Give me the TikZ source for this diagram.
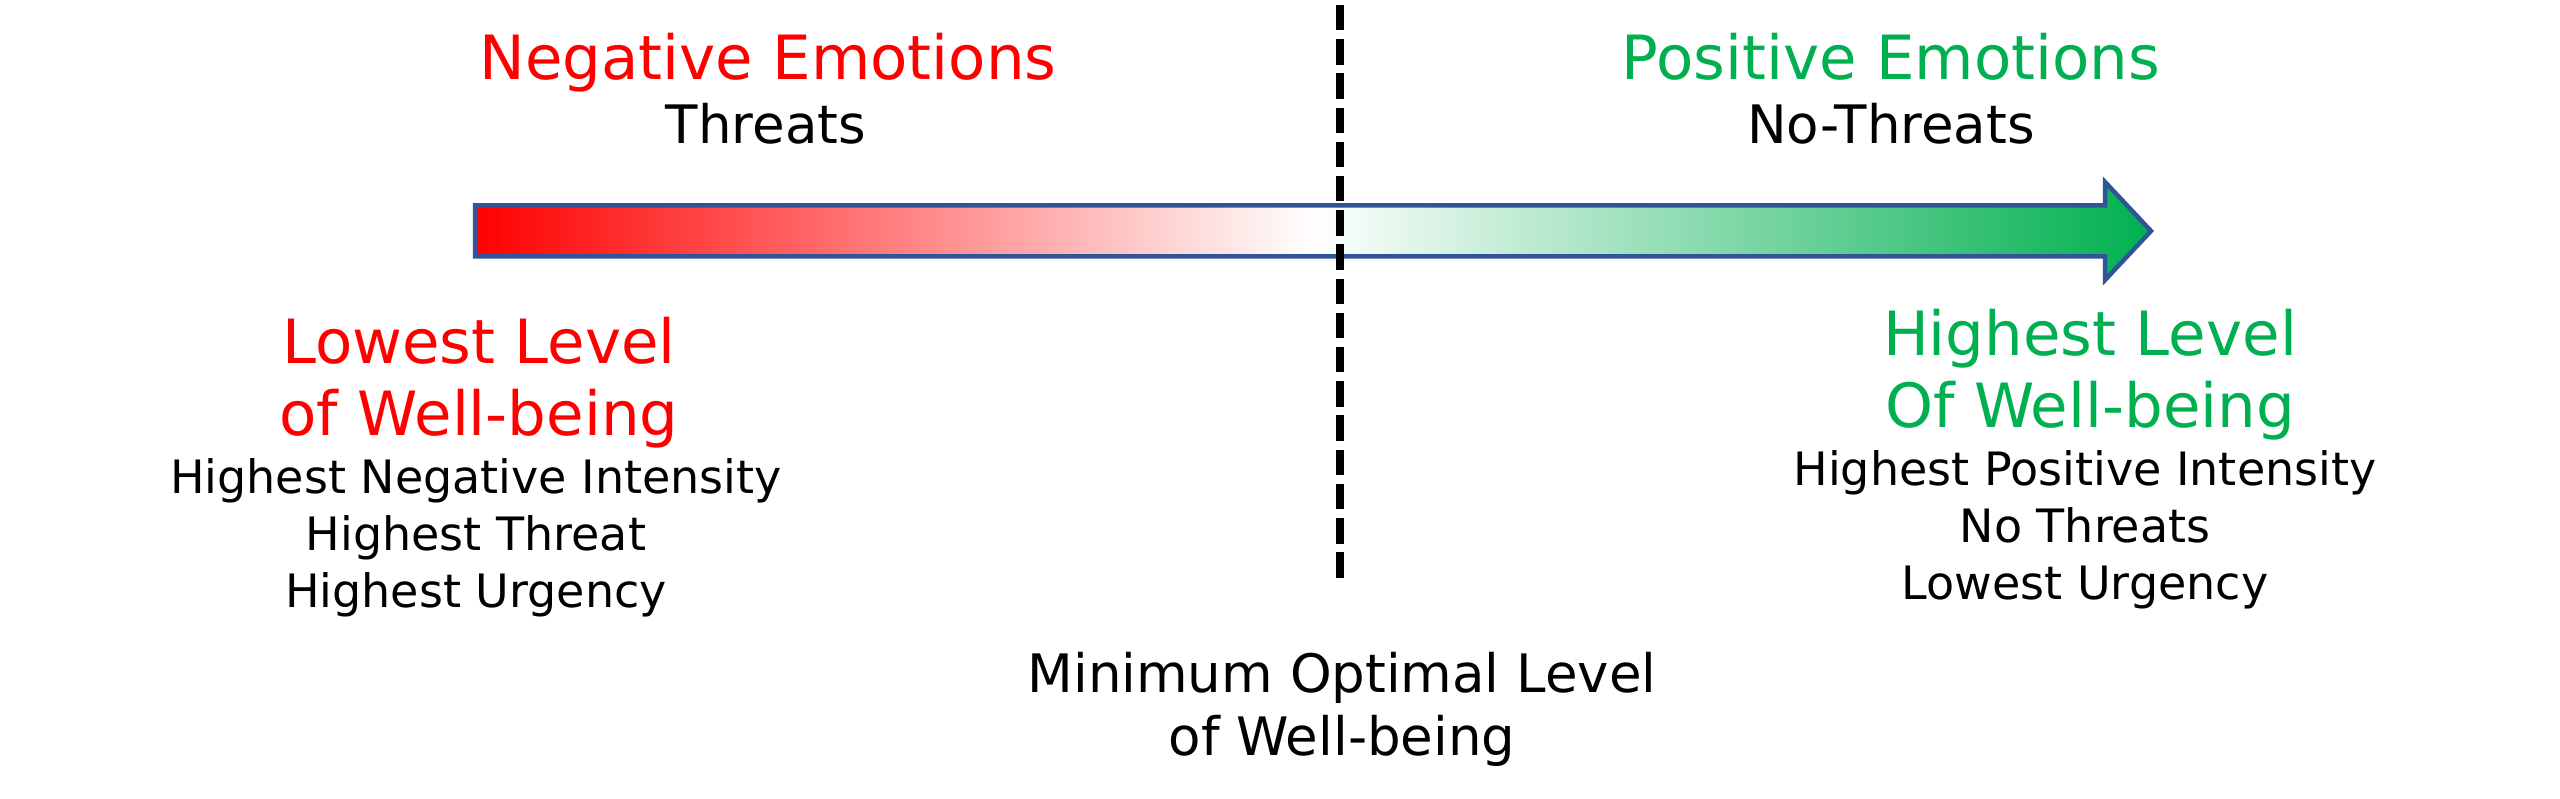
\documentclass[tikz,border=0pt]{standalone}
\usepackage{fontspec}
\setmainfont{DejaVu Sans}
\definecolor{negred}{RGB}{255,0,0}
\definecolor{posgreen}{RGB}{0,176,80}
\definecolor{frameblue}{RGB}{47,85,151}
\begin{document}
\begin{tikzpicture}[
   x=1pt, y=-1pt,
   every node/.style={inner sep=0pt, align=center},
   heading/.style={font=\fontsize{61}{72}\selectfont},
   subhead/.style={font=\fontsize{53}{63}\selectfont},
   detail/.style={font=\fontsize{46}{57}\selectfont},
   divider/.style={line width=8pt, dash pattern=on 25.5pt off 8.7pt},
   scalearrow/.style={draw=frameblue, line width=4.5pt, left color=negred, right color=posgreen, middle color=white}]

\useasboundingbox (0,0) rectangle (2560,799);

% the well-being scale
\draw[scalearrow] (475,205.5) -- (2105,205.5) -- (2105,182) -- (2151,231)
   -- (2105,280) -- (2105,256.5) -- (475,256.5) -- cycle;

\coordinate (divtop) at (1340,5);
\coordinate (divbot) at (1340,577.5);
\draw[divider] (divtop) -- (divbot);

% top labels
\node[heading, text=negred, anchor=base] (negemo) at (768,80) {Negative Emotions};
\node[subhead, anchor=base] (threats) at (766,144) {Threats};
\node[heading, text=posgreen, anchor=base] (posemo) at (1891,80) {Positive Emotions};
\node[subhead, anchor=base] (nothreats) at (1891,144) {No-Threats};

% ends of the scale
\node[heading, text=negred, anchor=north] (lowlevel) at (479,316.6) {Lowest Level\\of Well-being};
\node[detail, anchor=north] (lowdetail) at (476,458) {Highest Negative Intensity\\Highest Threat\\Highest Urgency};
\node[heading, text=posgreen, anchor=north] (highlevel) at (2090,308.6) {Highest Level\\Of Well-being};
\node[detail, anchor=north] (highdetail) at (2085,450) {Highest Positive Intensity\\No Threats\\Lowest Urgency};

% middle
\node[subhead, anchor=north] (minlevel) at (1342,651.7) {Minimum Optimal Level\\of Well-being};

\end{tikzpicture}
\end{document}
